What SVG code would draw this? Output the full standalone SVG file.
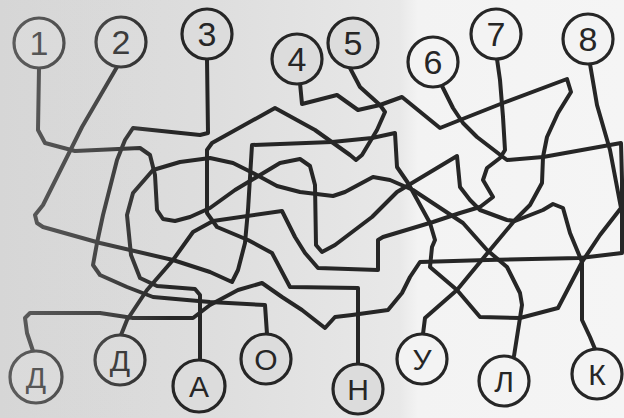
<svg xmlns="http://www.w3.org/2000/svg" width="624" height="418" viewBox="0 0 624 418">
<defs>
<linearGradient id="bg" x1="0" y1="0" x2="1" y2="0">
<stop offset="0" stop-color="#d6d6d6"/>
<stop offset="0.35" stop-color="#dedede"/>
<stop offset="0.64" stop-color="#e8e8e8"/>
<stop offset="0.67" stop-color="#f3f3f3"/>
<stop offset="1" stop-color="#f5f5f5"/>
</linearGradient>
<linearGradient id="fade" x1="0" y1="0" x2="1" y2="0">
<stop offset="0" stop-color="#d6d6d6" stop-opacity="0.32"/>
<stop offset="0.6" stop-color="#d8d8d8" stop-opacity="0.18"/>
<stop offset="1" stop-color="#dadada" stop-opacity="0"/>
</linearGradient>
<style>
.ln{fill:none;stroke:#262626;stroke-width:4;stroke-linejoin:round;stroke-linecap:round}
.c{stroke:#262626;stroke-width:3.2}
.cl{fill:#dcdcdc}
.cr{fill:#f3f3f3}
.n{font-family:"Liberation Sans",Arial,sans-serif;font-size:34px;fill:#262626;text-anchor:middle}
.t{font-family:"Liberation Sans",Arial,sans-serif;font-size:30px;fill:#262626;text-anchor:middle}
</style>
</defs>
<rect width="624" height="418" fill="url(#bg)"/>
<g id="connectors">
<polyline class="ln" points="39,68 38,130 45,143 75,151 140,148 150,155 155,175 157,210 163,219 175,221 190,217 210,208 235,190 280,163 300,159 310,166 315,185 316,245 322,252 335,245 372,217 397,192 457,156 460,187 470,200 480,210 507,220 515,221 543,210 553,204 563,208 570,233 582,262 582,320 590,337 595,349"/>
<polyline class="ln" points="117,67 82,127 43,205 35,215 37,223 43,227 100,243 173,260 210,272 232,282 238,270 245,243 248,210 252,145 332,142 372,138 395,133 397,167 408,183 430,223 435,240 432,247 430,267 457,290 480,317 520,318 558,308 582,262 600,235 621,208 610,150 597,105 590,64"/>
<polyline class="ln" points="207,59 208,133 200,135 133,128 125,140 117,160 103,215 97,243 93,265 100,275 127,287 153,297 187,300 210,302 265,305 267,334"/>
<polyline class="ln" points="300,83 302,104 337,95 358,110 380,105 402,97 440,128 460,120 503,103 567,79 571,92 558,113 547,137 543,157 542,183 530,205 515,220 490,250 457,290 425,318 423,334"/>
<polyline class="ln" points="350,68 360,87 380,105 385,112 377,130 362,155 356,160 350,155 315,130 275,108 212,143 207,150 207,213 217,227 248,240 272,253 290,287 358,288 358,364"/>
<polyline class="ln" points="442,86 453,108 463,123 477,137 503,157 507,160 543,157 621,143 622,180 622,210 622,253 580,258 487,260 420,262 410,277 402,293 388,310 352,315 335,317 325,328 302,310 282,297 262,283 238,290 210,305 193,318 133,318 100,313 30,313 25,318 27,333 33,351"/>
<polyline class="ln" points="497,59 500,80 503,117 505,150 500,158 487,168 483,180 493,197 480,207 460,213 433,222 383,237 378,240 378,270 318,268 305,253 295,237 282,211 213,221 193,232 173,260 147,290 127,320 121,335"/>
<polyline class="ln" points="200,360 200,295 195,289 157,286 140,278 131,255 127,215 133,193 153,170 180,162 210,158 233,163 253,173 277,186 300,192 333,196 345,192 373,177 390,180 413,190 463,223 487,250 507,267 520,293 522,305 514,356"/>
</g>
<g id="n1"><circle class="c cl" cx="39" cy="43" r="25"/><text class="n" x="39" y="55">1</text></g>
<g id="n2"><circle class="c cl" cx="121" cy="42" r="25"/><text class="n" x="121" y="54">2</text></g>
<g id="n3"><circle class="c cl" cx="207" cy="34" r="25"/><text class="n" x="207" y="46">3</text></g>
<g id="n4"><circle class="c cl" cx="297" cy="59" r="25"/><text class="n" x="297" y="71">4</text></g>
<g id="n5"><circle class="c cl" cx="353" cy="43" r="25"/><text class="n" x="353" y="55">5</text></g>
<g id="n6"><circle class="c cr" cx="433" cy="62" r="25"/><text class="n" x="433" y="74">6</text></g>
<g id="n7"><circle class="c cr" cx="496" cy="34" r="25"/><text class="n" x="496" y="46">7</text></g>
<g id="n8"><circle class="c cr" cx="588" cy="39" r="25"/><text class="n" x="588" y="51">8</text></g>
<g id="d1"><circle class="c cl" cx="36" cy="377" r="26"/><text class="t" x="36" y="388">Д</text></g>
<g id="d2"><circle class="c cl" cx="120" cy="360" r="25"/><text class="t" x="120" y="371">Д</text></g>
<g id="a"><circle class="c cl" cx="199" cy="386" r="26"/><text class="t" x="199" y="397">А</text></g>
<g id="o"><circle class="c cl" cx="266" cy="359" r="25"/><text class="t" x="266" y="370">О</text></g>
<g id="h"><circle class="c cl" cx="358" cy="389" r="25"/><text class="t" x="358" y="400">Н</text></g>
<g id="u"><circle class="c cr" cx="422" cy="359" r="25"/><text class="t" x="422" y="370">У</text></g>
<g id="l"><circle class="c cr" cx="504" cy="381" r="25"/><text class="t" x="504" y="392">Л</text></g>
<g id="k"><circle class="c cr" cx="597" cy="374" r="25"/><text class="t" x="597" y="385">К</text></g>
<rect x="0" y="0" width="170" height="418" fill="url(#fade)"/>
</svg>
